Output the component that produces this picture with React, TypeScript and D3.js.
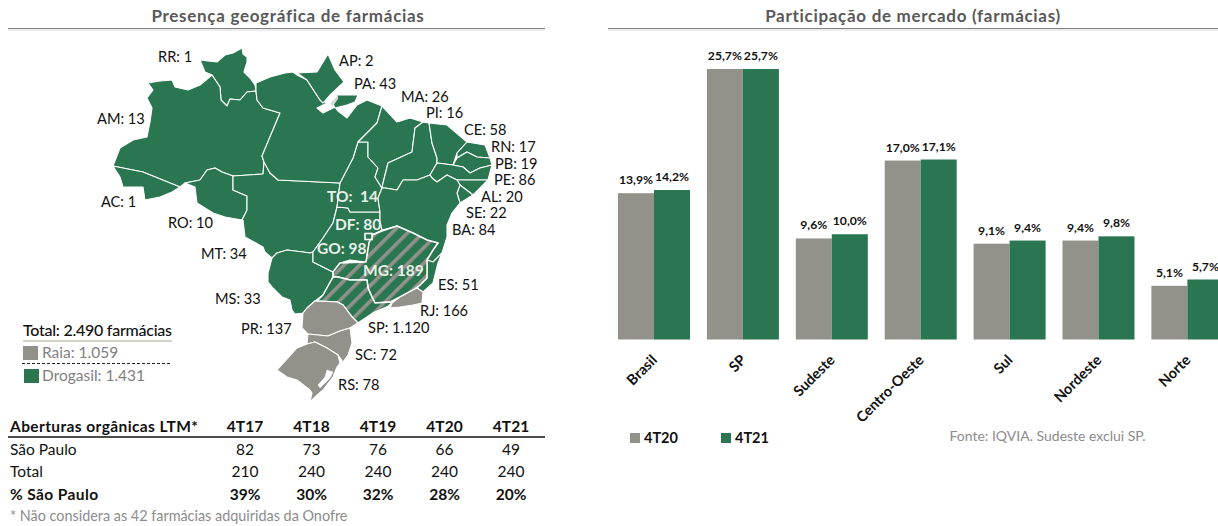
import React from 'react';
import * as d3 from 'd3';

const GREEN = '#2a7650';
const GRAY = '#92918a';
const FONT = 'Lato, Carlito, sans-serif';

// share chart
const regions = ['Brasil', 'SP', 'Sudeste', 'Centro-Oeste', 'Sul', 'Nordeste', 'Norte'];
const share4T20 = [13.9, 25.7, 9.6, 17.0, 9.1, 9.4, 5.1];
const share4T21 = [14.2, 25.7, 10.0, 17.1, 9.4, 9.8, 5.7];
const seriesNames = ['4T20', '4T21'];

// openings table
const tableYears = ['4T17', '4T18', '4T19', '4T20', '4T21'];
const openingsSP = ['82', '73', '76', '66', '49'];
const openingsTotal = ['210', '240', '240', '240', '240'];
const openingsPct = ['39%', '30%', '32%', '28%', '20%'];

// stores per state
const stateNames = ['RR', 'AP', 'PA', 'MA', 'PI', 'CE', 'RN', 'PB', 'PE', 'AL', 'SE', 'BA', 'ES', 'RJ', 'SP', 'SC', 'RS', 'PR', 'MS', 'MT', 'RO', 'AC', 'AM', 'TO', 'DF', 'GO', 'MG'];
const stateStores = ['1', '2', '43', '26', '16', '58', '17', '19', '86', '20', '22', '84', '51', '166', '1.120', '72', '78', '137', '33', '34', '10', '1', '13', '\u00a014', '80', '98', '189'];
const whiteLabels = ['TO', 'DF', 'GO', 'MG'];

const labelAnchor: Record<string, [number, number]> = {
  RR: [158, 62], AP: [339, 66], PA: [354, 89], MA: [401, 102], PI: [426, 118], CE: [464, 135],
  RN: [491, 152], PB: [495, 169], PE: [494, 185], AL: [481, 202], SE: [466, 218], BA: [452, 235],
  ES: [438, 290], RJ: [420, 316], SP: [368, 333], SC: [355, 360], RS: [338, 390], PR: [241, 334],
  MS: [215, 304], MT: [201, 259], RO: [168, 228], AC: [101, 207], AM: [97, 124],
  TO: [327, 202], DF: [335, 230], GO: [317, 254], MG: [363, 276],
};

// state outlines, in page pixels
const drogasilStates: Record<string, [number, number][]> = {
  RR: [[200, 60], [208, 61], [217, 62], [225, 55], [233, 53], [242, 48], [243, 54], [247, 57], [247, 62], [244, 72], [250, 78], [255, 85], [256, 91], [247, 92], [240, 100], [230, 99], [227, 106], [221, 100], [220, 87], [212, 75], [205, 72]],
  AM: [[148, 83], [160, 81], [172, 80], [175, 87], [188, 90], [200, 85], [212, 75], [220, 87], [221, 100], [227, 106], [230, 99], [240, 100], [247, 92], [256, 91], [257, 100], [263, 108], [280, 113], [262, 156], [264, 162], [263, 174], [233, 176], [222, 172], [215, 168], [207, 170], [200, 180], [185, 183], [180, 187], [143, 172], [113, 166], [120, 148], [133, 140], [147, 137], [150, 122], [152, 108], [147, 98], [153, 90]],
  AC: [[113, 166], [143, 172], [180, 187], [172, 192], [160, 197], [145, 200], [143, 187], [123, 187], [120, 177]],
  RO: [[185, 183], [200, 180], [207, 170], [215, 168], [222, 172], [233, 176], [233, 190], [247, 196], [247, 210], [242, 220], [225, 217], [213, 213], [197, 203], [195, 187]],
  MT: [[233, 176], [263, 174], [264, 162], [270, 173], [278, 180], [340, 183], [337, 207], [333, 223], [323, 238], [313, 252], [310, 253], [303, 252], [287, 250], [277, 253], [272, 258], [265, 252], [263, 247], [245, 237], [243, 220], [242, 220], [247, 210], [247, 196], [233, 190]],
  MS: [[272, 258], [277, 253], [287, 250], [303, 252], [310, 253], [313, 252], [313, 262], [333, 272], [333, 277], [323, 295], [315, 301], [307, 308], [303, 313], [295, 314], [292, 310], [290, 300], [282, 297], [273, 288], [268, 282], [268, 273]],
  GO: [[337, 207], [348, 208], [350, 212], [365, 212], [380, 212], [380, 222], [382, 230], [372, 235], [369, 243], [366, 262], [350, 260], [340, 263], [333, 272], [313, 262], [313, 252], [323, 238], [333, 223]],
  TO: [[358, 142], [368, 142], [368, 157], [378, 168], [375, 177], [382, 188], [378, 198], [380, 212], [365, 212], [350, 212], [348, 208], [337, 207], [340, 183], [353, 158]],
  PA: [[256, 83], [270, 77], [285, 73], [293, 72], [297, 75], [307, 80], [320, 100], [327, 103], [317, 108], [323, 113], [335, 107], [338, 111], [347, 118], [357, 105], [367, 100], [382, 106], [377, 123], [360, 140], [358, 142], [353, 158], [340, 183], [278, 180], [270, 173], [264, 162], [262, 156], [280, 113], [263, 108], [257, 100], [256, 91]],
  AP: [[297, 73], [317, 72], [328, 54], [335, 70], [344, 82], [330, 95], [323, 103], [320, 100], [307, 80]],
  MARAJO: [[337, 95], [358, 95], [355, 102], [347, 105], [335, 108], [333, 104]],
  MA: [[382, 106], [397, 122], [410, 118], [423, 122], [415, 128], [412, 152], [388, 163], [383, 183], [382, 188], [375, 177], [378, 168], [368, 157], [368, 142], [358, 142], [360, 140], [377, 123]],
  PI: [[423, 122], [429, 123], [432, 143], [437, 158], [437, 163], [430, 175], [417, 180], [403, 180], [397, 190], [385, 188], [382, 188], [383, 183], [388, 163], [412, 152], [415, 128]],
  CE: [[429, 123], [447, 125], [467, 142], [457, 153], [453, 165], [437, 163], [437, 158], [432, 143]],
  RN: [[467, 142], [485, 145], [490, 158], [477, 157], [467, 152], [457, 158], [457, 153]],
  PB: [[457, 158], [467, 152], [477, 157], [490, 158], [492, 165], [480, 168], [470, 173], [463, 167], [453, 165]],
  PE: [[437, 163], [453, 165], [463, 167], [470, 173], [480, 168], [492, 165], [488, 180], [467, 180], [457, 180], [447, 175], [437, 182], [432, 178], [430, 175]],
  AL: [[457, 180], [467, 180], [488, 180], [473, 195], [460, 185]],
  SE: [[460, 185], [473, 195], [460, 203], [457, 193]],
  BA: [[430, 175], [432, 178], [437, 182], [447, 175], [457, 180], [460, 185], [457, 193], [460, 203], [452, 213], [447, 225], [447, 237], [442, 253], [433, 262], [427, 260], [433, 250], [438, 243], [427, 240], [413, 233], [397, 226], [382, 230], [380, 222], [380, 212], [378, 198], [382, 188], [385, 188], [397, 190], [403, 180], [417, 180]],
  ES: [[427, 260], [433, 262], [442, 253], [438, 263], [433, 283], [423, 292], [417, 288], [427, 278]],
};
const hatchedStates: Record<string, [number, number][]> = {
  MG: [[382, 231], [397, 226], [413, 233], [427, 240], [438, 243], [433, 250], [427, 260], [427, 278], [420, 285], [413, 290], [400, 297], [390, 302], [375, 303], [372, 297], [368, 288], [367, 280], [350, 280], [338, 277], [333, 277], [333, 272], [340, 263], [366, 262], [369, 243], [372, 235]],
  SP: [[333, 277], [338, 277], [350, 280], [367, 280], [368, 288], [372, 297], [375, 303], [390, 302], [392, 303], [387, 307], [373, 313], [358, 323], [352, 317], [343, 305], [337, 302], [317, 301], [323, 295]],
};
const raiaStates: Record<string, [number, number][]> = {
  RJ: [[417, 288], [423, 292], [422, 303], [413, 305], [400, 307], [390, 308], [392, 303], [400, 297]],
  PR: [[315, 301], [337, 302], [343, 305], [352, 317], [358, 323], [350, 328], [340, 331], [328, 336], [308, 334], [302, 328], [303, 313], [307, 308]],
  SC: [[308, 334], [328, 336], [340, 331], [350, 328], [352, 343], [348, 355], [343, 362], [338, 355], [327, 348], [315, 342], [307, 344]],
  RS: [[307, 344], [315, 342], [327, 348], [338, 355], [340, 363], [337, 367], [333, 377], [323, 390], [315, 397], [310, 402], [312, 393], [310, 390], [297, 380], [287, 377], [277, 370], [288, 358], [297, 348]],
};
const lagoon: [number, number][] = [[327, 370], [333, 372], [330, 378], [320, 388], [318, 385], [325, 377]];
const estuary: [number, number][] = [[330, 104], [338, 95], [338, 99], [333, 106]];

const ringPath = d3.line().curve(d3.curveLinearClosed);
const comma = (v: number) => v.toFixed(1).replace('.', ',') + '%';

const x0 = d3.scaleBand().domain(regions).range([618, 1223.4]).paddingInner(0.19);
const x1 = d3.scaleBand().domain(seriesNames).range([0, x0.bandwidth()]);
const y = d3.scaleLinear().domain([0, 25.7]).range([339.5, 69]);
const colX = d3.scalePoint().domain(tableYears).range([245, 511]);

function Title({ text, cx, x1: a, x2: b }: { text: string; cx: number; x1: number; x2: number }) {
  return (
    <g>
      <text x={cx} y={22} textAnchor="middle" fontSize={17} fontWeight={700} letterSpacing={0.7} fill="#595959">{text}</text>
      <line x1={a} x2={b} y1={28.5} y2={28.5} stroke="#7f7f7f" strokeWidth={1.2} />
      <line x1={a} x2={b} y1={30} y2={30} stroke="#ececec" strokeWidth={2} />
    </g>
  );
}

function TableRow({ label, cells, yy, bold }: { label: string; cells: string[]; yy: number; bold?: boolean }) {
  return (
    <g fontSize={15.5} fontWeight={bold ? 700 : 400} fill="#111">
      <text x={10} y={yy} letterSpacing={bold ? 0.4 : 0}>{label}</text>
      {cells.map((c, i) => (
        <text key={i} x={colX(tableYears[i])} y={yy} textAnchor="middle">{c}</text>
      ))}
    </g>
  );
}

export default function App() {
  const series = [share4T20, share4T21];
  const seriesColors = [GRAY, GREEN];
  return (
    <svg width={1218} height={526} viewBox="0 0 1218 526" style={{ position: 'absolute', left: 0, top: 0, display: 'block' }} fontFamily={FONT}>
      <defs>
        <pattern id="hatch" width={11} height={11} patternUnits="userSpaceOnUse" patternTransform="rotate(45)">
          <rect width={11} height={11} fill={GREEN} />
          <rect width={3.6} height={11} fill={GRAY} />
        </pattern>
      </defs>
      <rect width={1218} height={526} fill="#fff" />

      <Title text="Presença geográfica de farmácias" cx={288} x1={8} x2={545} />
      <Title text="Participação de mercado (farmácias)" cx={913} x1={608} x2={1218} />

      {/* map */}
      <g stroke="#fff" strokeWidth={1.1} strokeLinejoin="round">
        {Object.entries(drogasilStates).map(([k, r]) => <path key={k} d={ringPath(r) as string} fill={GREEN} />)}
        {Object.entries(hatchedStates).map(([k, r]) => <path key={k} d={ringPath(r) as string} fill="url(#hatch)" strokeWidth={1.5} />)}
        {Object.entries(raiaStates).map(([k, r]) => <path key={k} d={ringPath(r) as string} fill={GRAY} />)}
        <path d={ringPath(lagoon) as string} fill="#fff" strokeWidth={0.5} />
        <path d={ringPath(estuary) as string} fill="#d9d9d9" strokeWidth={0} />
      </g>
      <rect x={365} y={233.5} width={7} height={6} fill={GREEN} stroke="#fff" strokeWidth={1.6} />
      {stateNames.map((s, i) => {
        const white = whiteLabels.includes(s);
        const [lx, ly] = labelAnchor[s];
        return (
          <text key={s} x={lx} y={ly} fontSize={white ? 15.5 : 14.6} fontWeight={white ? 700 : 400} fill={white ? '#e9efe9' : '#111'}>
            {`${s}: ${stateStores[i]}`}
          </text>
        );
      })}

      {/* left legend */}
      <text x={23} y={336} fontSize={16} fontWeight={500} fill="#111" letterSpacing={-0.25}>Total: 2.490 farmácias</text>
      <line x1={23} x2={172} y1={341} y2={341} stroke="#c4c4b8" strokeWidth={1.6} />
      <rect x={23} y={346} width={15} height={14} fill={GRAY} />
      <text x={42} y={358} fontSize={15.5} fill="#7f7f7f">Raia: 1.059</text>
      <line x1={22} x2={172} y1={363.5} y2={363.5} stroke="#222" strokeWidth={1} strokeDasharray="3 2" />
      <rect x={24} y={369} width={15} height={14} fill={GREEN} />
      <text x={42} y={381} fontSize={15.5} fill="#7f7f7f">Drogasil: 1.431</text>

      {/* openings table */}
      <TableRow label="Aberturas orgânicas LTM*" cells={tableYears} yy={432} bold />
      <line x1={8} x2={545} y1={437} y2={437} stroke="#111" strokeWidth={1.3} />
      <TableRow label="São Paulo" cells={openingsSP} yy={455} />
      <TableRow label="Total" cells={openingsTotal} yy={477} />
      <TableRow label="% São Paulo" cells={openingsPct} yy={500} bold />
      <text x={10} y={521} fontSize={14.4} fill="#8c8c8c">* Não considera as 42 farmácias adquiridas da Onofre</text>

      {/* bars */}
      {regions.map((r, i) => (
        <g key={r} transform={`translate(${x0(r)},0)`}>
          {seriesNames.map((s, j) => (
            <g key={s}>
              <rect x={x1(s)} y={y(series[j][i])} width={x1.bandwidth()} height={y(0) - y(series[j][i])} fill={seriesColors[j]} />
              <text x={(x1(s) as number) + x1.bandwidth() / 2} y={y(series[j][i]) - 9} textAnchor="middle" fontSize={12.2} fontWeight={700} fill="#111">
                {comma(series[j][i])}
              </text>
            </g>
          ))}
        </g>
      ))}
      {regions.map((r) => {
        const cx = (x0(r) as number) + x0.bandwidth() / 2;
        return (
          <text key={r} transform={`translate(${cx + 4},${361}) rotate(-45)`} textAnchor="end" fontSize={14.5} fontWeight={700} fill="#111">
            {r}
          </text>
        );
      })}

      {/* right legend */}
      {seriesNames.map((s, j) => (
        <g key={s}>
          <rect x={630 + j * 91} y={433} width={10} height={10} fill={seriesColors[j]} />
          <text x={644 + j * 91} y={443} fontSize={14.5} fontWeight={700} fill="#111">{s}</text>
        </g>
      ))}
      <text x={949.5} y={441} fontSize={14} fill="#8c8c8c">Fonte: IQVIA. Sudeste exclui SP.</text>
    </svg>
  );
}
